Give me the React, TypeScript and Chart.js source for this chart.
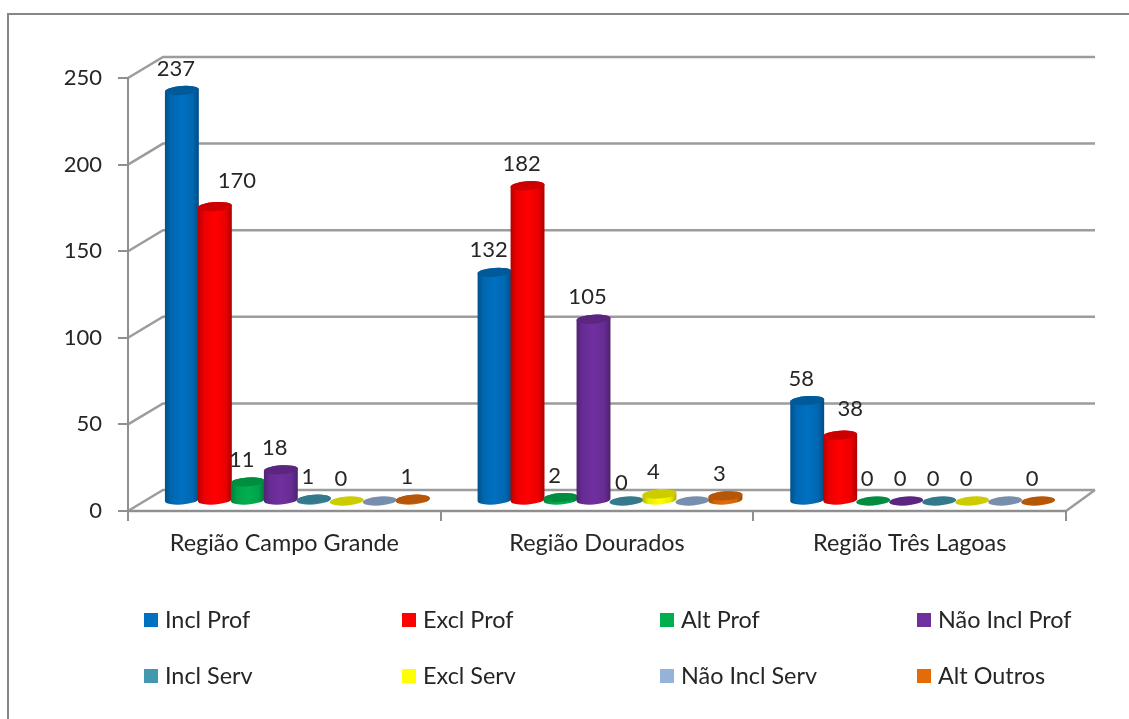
import React, { useEffect, useRef } from "react";
import { Chart, registerables } from "chart.js";

Chart.register(...registerables);

const categories = ["Região Campo Grande", "Região Dourados", "Região Três Lagoas"];
const seriesNames = ["Incl Prof", "Excl Prof", "Alt Prof", "Não Incl Prof", "Incl Serv", "Excl Serv", "Não Incl Serv", "Alt Outros"];
const inclProf = [237, 132, 58];
const exclProf = [170, 182, 38];
const altProf = [11, 2, 0];
const naoInclProf = [18, 105, 0];
const inclServ = [1, 0, 0];
const exclServ = [0, 4, 0];
const naoInclServ = [0, 0, 0];
const altOutros = [1, 3, 0];
const seriesValues = [inclProf, exclProf, altProf, naoInclProf, inclServ, exclServ, naoInclServ, altOutros];
const seriesColors = ["#0070C0", "#FF0000", "#00B050", "#7030A0", "#4198AF", "#FFFF00", "#95B3D7", "#E36C09"];
const unlabelledSeries = [6];

const FONT = "Lato";
const TEXT = "#262626";
const LINE = "#8f8f8f";
const DEPTH_X = 35;
const DEPTH_Y = -21;
const BAR_DX = 13;
const BAR_DY = -10;
const LEGEND_X = [144, 402, 660, 917];
const LEGEND_Y = [620, 676];

function shade(hex: string, k: number) {
  const n = parseInt(hex.slice(1), 16);
  const c = [(n >> 16) & 255, (n >> 8) & 255, n & 255].map((v) => Math.round(v * k));
  return `rgb(${c[0]},${c[1]},${c[2]})`;
}

function labelNudge(ds: number, i: number) {
  if (ds === 1 && i === 0) return [22, -26];
  if (ds === 1 && i === 2) return [10, -26];
  if (ds === 4 && i === 1) return [-5, -18];
  return [-6, -22];
}

const cylinders = {
  id: "cylinders",
  beforeDraw(chart: any) {
    const { ctx } = chart;
    ctx.save();
    ctx.strokeStyle = "#878787";
    ctx.lineWidth = 2;
    ctx.beginPath();
    ctx.moveTo(8, 719);
    ctx.lineTo(8, 14);
    ctx.lineTo(1129, 14);
    ctx.stroke();

    // wall gridlines and floor, projected from the value axis
    const { left, right, bottom } = chart.chartArea;
    const y = chart.scales.y;
    ctx.lineWidth = 2.5;
    ctx.strokeStyle = "#9c9c9c";
    y.ticks.forEach((t: any) => {
      const py = y.getPixelForValue(t.value);
      ctx.beginPath();
      ctx.moveTo(left, py);
      ctx.lineTo(left + DEPTH_X, py + DEPTH_Y);
      ctx.lineTo(right + DEPTH_X - 6, py + DEPTH_Y);
      ctx.stroke();
    });
    ctx.beginPath();
    ctx.moveTo(left + DEPTH_X - 6 + right - left, bottom + DEPTH_Y);
    ctx.lineTo(right, bottom);
    ctx.lineTo(left, bottom);
    ctx.stroke();
    ctx.restore();
  },
  beforeDatasetsDraw(chart: any) {
    const { ctx } = chart;
    const rot = (-4 * Math.PI) / 180;
    chart.data.datasets.forEach((ds: any, di: number) => {
      const color = ds.backgroundColor as string;
      chart.getDatasetMeta(di).data.forEach((el: any) => {
        const cx = el.x + BAR_DX;
        const rx = el.width / 2 + 0.5;
        const ry = 4.5;
        const yb = el.base + BAR_DY;
        const yt = el.y + BAR_DY;
        ctx.save();
        if (yb - yt > 0.5) {
          const g = ctx.createLinearGradient(cx - rx, 0, cx + rx, 0);
          g.addColorStop(0, shade(color, 0.72));
          g.addColorStop(0.18, shade(color, 0.92));
          g.addColorStop(0.5, color);
          g.addColorStop(0.82, shade(color, 0.92));
          g.addColorStop(1, shade(color, 0.68));
          ctx.fillStyle = g;
          ctx.beginPath();
          ctx.ellipse(cx, yb, rx, ry, rot, 0, Math.PI);
          ctx.ellipse(cx, yt, rx, ry, rot, Math.PI, 0);
          ctx.closePath();
          ctx.fill();
        }
        ctx.fillStyle = shade(color, 0.8);
        ctx.beginPath();
        ctx.ellipse(cx, yt, rx, ry, rot, 0, Math.PI * 2);
        ctx.fill();
        ctx.restore();
      });
    });

    ctx.save();
    ctx.font = `22px ${FONT}`;
    ctx.fillStyle = TEXT;
    ctx.textAlign = "center";
    ctx.textBaseline = "middle";
    chart.data.datasets.forEach((ds: any, di: number) => {
      if (unlabelledSeries.includes(di)) return;
      chart.getDatasetMeta(di).data.forEach((el: any, i: number) => {
        const [nx, ny] = labelNudge(di, i);
        ctx.fillText(String(ds.data[i]), el.x + BAR_DX + nx, el.y + BAR_DY + ny);
      });
    });
    ctx.restore();
    return false;
  },
  afterDraw(chart: any) {
    const { ctx } = chart;
    ctx.save();
    ctx.font = `23.4px ${FONT}`;
    ctx.textBaseline = "middle";
    chart.data.datasets.forEach((ds: any, di: number) => {
      const x = LEGEND_X[di % 4];
      const y = LEGEND_Y[Math.floor(di / 4)];
      ctx.fillStyle = ds.backgroundColor;
      ctx.fillRect(x, y - 7, 14, 14);
      ctx.fillStyle = TEXT;
      ctx.fillText(ds.label, x + 21, y);
    });
    ctx.restore();
  },
};

export default function App() {
  const ref = useRef<HTMLCanvasElement>(null);
  useEffect(() => {
    const chart = new Chart(ref.current as HTMLCanvasElement, {
      type: "bar",
      data: {
        labels: categories,
        datasets: seriesNames.map((label, i) => ({
          label,
          data: seriesValues[i],
          backgroundColor: seriesColors[i],
          barPercentage: 1,
          categoryPercentage: 0.844,
        })),
      },
      options: {
        animation: false,
        responsive: false,
        layout: { padding: { top: 78, right: 63, left: 0, bottom: 0 } },
        plugins: { legend: { display: false }, tooltip: { enabled: false }, title: { display: false } },
        scales: {
          x: {
            afterFit(s: any) { s.height = 208; },
            grid: { drawOnChartArea: false, tickLength: 10, color: LINE, lineWidth: 2 },
            border: { display: true, color: LINE, width: 2 },
            ticks: { color: TEXT, font: { family: FONT, size: 23.4 }, padding: 8, maxRotation: 0, autoSkip: false },
          },
          y: {
            min: 0,
            max: 250,
            afterFit(s: any) { s.width = 128; },
            grid: { drawOnChartArea: false, tickLength: 10, color: LINE, lineWidth: 2 },
            border: { display: true, color: LINE, width: 2 },
            ticks: { stepSize: 50, color: TEXT, font: { family: FONT, size: 22 }, padding: 16 },
          },
        },
      },
      plugins: [cylinders],
    } as any);
    return () => chart.destroy();
  }, []);
  return (
    <div style={{ position: "fixed", left: 0, top: 0, width: 1129, height: 719, background: "#fff" }}>
      <canvas ref={ref} width={1129} height={719} style={{ display: "block" }} />
    </div>
  );
}
